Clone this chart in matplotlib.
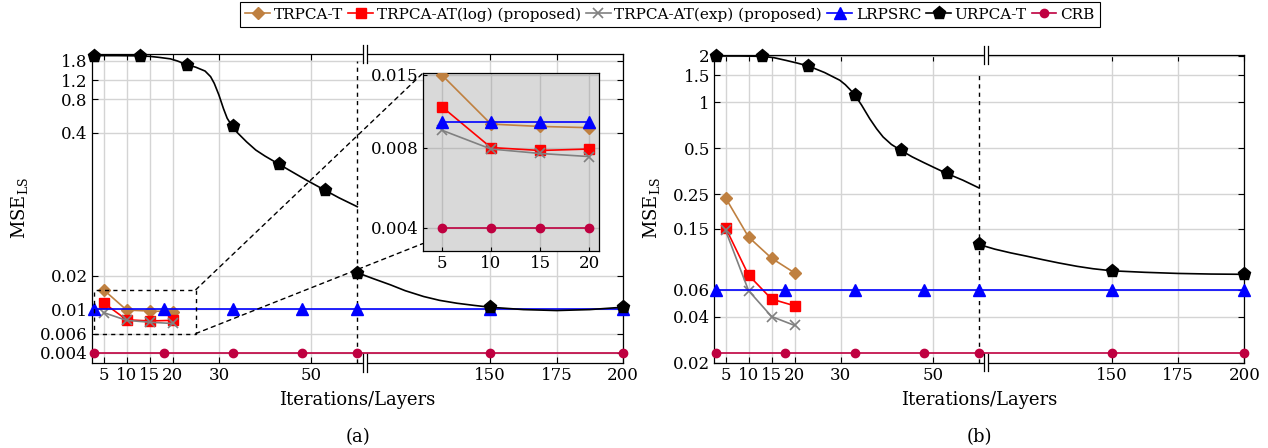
import numpy as np
import matplotlib
matplotlib.use("Agg")
import matplotlib.pyplot as plt
from matplotlib.patches import Rectangle, ConnectionPatch
from matplotlib.ticker import NullLocator

plt.rcParams["font.family"] = ["DejaVu Serif"]
plt.rcParams["mathtext.fontset"] = "dejavuserif"

# ---- data ----
iters_small = [5, 10, 15, 20]
flat_x = [3, 18, 33, 48, 100, 150, 200]

# panel (a)
a_trpca_t = [0.0150, 0.0098, 0.0096, 0.0095]
a_trpca_log = [0.0114, 0.0080, 0.0078, 0.0079]
a_trpca_exp = [0.0093, 0.0079, 0.0076, 0.0074]
a_lrpsrc = [0.0100, 0.0100, 0.0100, 0.0100, 0.0100, 0.0100, 0.0100]
a_crb = [0.0040, 0.0040, 0.0040, 0.0040, 0.0040, 0.0040, 0.0040]
a_urpca_x1 = [3, 8, 13, 15, 17, 19.5, 21, 23, 25, 27, 28.2, 29, 30, 31, 31.8, 32.3, 33,
              34, 36, 38, 40, 43, 46, 49, 53, 56, 60]
a_urpca_y1 = [2.0, 2.0, 1.99, 1.97, 1.93, 1.87, 1.79, 1.66, 1.57, 1.45, 1.29, 1.12, 0.88,
              0.66, 0.54, 0.50, 0.455, 0.40, 0.33, 0.278, 0.245, 0.207, 0.175, 0.148,
              0.12, 0.1026, 0.085]
a_urpca_x2 = [100, 106, 112.5, 118, 125, 131, 137.5, 144, 150, 162.5, 175, 187.5, 200]
a_urpca_y2 = [0.0214, 0.0189, 0.0166, 0.0147, 0.0130, 0.0120, 0.0113, 0.0108, 0.0104,
              0.0099, 0.0097, 0.0099, 0.0104]

# panel (b)
b_trpca_t = [0.238, 0.132, 0.096, 0.077]
b_trpca_log = [0.152, 0.0745, 0.052, 0.047]
b_trpca_exp = [0.146, 0.059, 0.040, 0.035]
b_lrpsrc = [0.060, 0.060, 0.060, 0.060, 0.060, 0.060, 0.060]
b_crb = [0.023, 0.023, 0.023, 0.023, 0.023, 0.023, 0.023]
b_urpca_x1 = [3, 8, 13, 15.5, 18.2, 20.5, 23, 26.5, 28, 29.8, 31, 32, 33, 34.5, 36.3, 37.8,
              39.2, 41, 43, 45.5, 48, 50.5, 53, 56.5, 60]
b_urpca_y1 = [2.0, 2.0, 1.99, 1.95, 1.87, 1.80, 1.72, 1.56, 1.48, 1.39, 1.30, 1.21, 1.12,
              0.96, 0.78, 0.67, 0.593, 0.53, 0.486, 0.44, 0.404, 0.372, 0.343, 0.31, 0.276]
b_urpca_x2 = [100, 106, 112, 118, 124, 130, 137, 143, 150, 162.5, 175, 187.5, 200]
b_urpca_y2 = [0.118, 0.110, 0.104, 0.099, 0.094, 0.0895, 0.085, 0.082, 0.0795, 0.0777,
              0.0764, 0.0757, 0.0754]

xticks = [5, 10, 15, 20, 30, 50, 150, 175, 200]
a_yticks = [0.004, 0.006, 0.01, 0.02, 0.4, 0.8, 1.2, 1.8]
b_yticks = [0.02, 0.04, 0.06, 0.15, 0.25, 0.5, 1, 1.5, 2]

C_T = "#bf8040"
C_LOG = "#ff0000"
C_EXP = "#808080"
C_LR = "#0000ff"
C_UR = "#000000"
C_CRB = "#bf0040"

# broken x axis: [2.5, 60] then [100, 200] squeezed
R = 2.655 / 4.61


def fwd(x):
    x = np.asarray(x, float)
    return np.where(x <= 60, x, np.where(x >= 100, 60 + (x - 100) * R, 60.0))


def inv(u):
    u = np.asarray(u, float)
    return np.where(u <= 60, u, 100 + (u - 60) / R)


def style(ax, yticks, ylim, dash_top):
    ax.set_xscale("function", functions=(fwd, inv))
    ax.set_yscale("log")
    ax.set_xlim(2.5, 200)
    ax.set_ylim(*ylim)
    ax.set_xticks(xticks)
    ax.set_xticklabels([str(t) for t in xticks])
    ax.set_yticks(yticks)
    ax.set_yticklabels([f"{t:g}" for t in yticks])
    ax.xaxis.set_minor_locator(NullLocator())
    ax.yaxis.set_minor_locator(NullLocator())
    ax.grid(True, color="#d4d4d4", lw=1)
    ax.set_axisbelow(True)
    ax.tick_params(direction="in", top=True, right=True, length=4, width=0.8,
                   labelsize=12, pad=3)
    for s in ax.spines.values():
        s.set_linewidth(0.9)
    ax.plot([60, 60], [ylim[0], dash_top], color="k", lw=1, ls=(0, (3, 3)), zorder=3)
    tr = ax.get_xaxis_transform()
    for yb in (0, 1):
        ax.plot([102.75, 102.75], [yb - 0.02, yb + 0.02], color="white", lw=3,
                transform=tr, clip_on=False, zorder=6)
        for xb in (102, 103.5):
            ax.plot([xb, xb], [yb - 0.028, yb + 0.028], color="k", lw=0.9,
                    transform=tr, clip_on=False, zorder=7)


def draw(ax, t, lg, ex, lr, crb, ux1, uy1, ux2, uy2, mk1, label=False):
    kw = dict(lw=1.2, zorder=4, clip_on=False)
    ax.plot(iters_small, t, color=C_T, marker="D", ms=6.5, label="TRPCA-T" if label else None, **kw)
    ax.plot(iters_small, lg, color=C_LOG, marker="s", ms=7,
            label="TRPCA-AT(log) (proposed)" if label else None, **kw)
    ax.plot(iters_small, ex, color=C_EXP, marker="x", ms=7, mew=1.2,
            label="TRPCA-AT(exp) (proposed)" if label else None, **kw)
    ax.plot(flat_x, lr, color=C_LR, marker="^", ms=8, label="LRPSRC" if label else None, **kw)
    ax.plot(ux1, uy1, color=C_UR, marker="p", ms=9.5, markevery=mk1,
            label="URPCA-T" if label else None, **kw)
    ax.plot(ux2, uy2, color=C_UR, marker="p", ms=9.5,
            markevery=[0, ux2.index(150), len(ux2) - 1], **kw)
    ax.plot(flat_x, crb, color=C_CRB, marker="o", ms=6, label="CRB" if label else None, **kw)


W, H = 1268, 448
fig = plt.figure(figsize=(W / 100, H / 100), dpi=100)
ax_a = fig.add_axes([92 / W, 1 - 363 / H, 531 / W, 309 / H])
ax_b = fig.add_axes([714 / W, 1 - 362.7 / H, 530.3 / W, 307.7 / H])

style(ax_a, a_yticks, (0.00324, 2.07), 1.8)
style(ax_b, b_yticks, (0.02, 2.03), 1.5)

mk_a = [a_urpca_x1.index(v) for v in (3, 13, 23, 33, 43, 53)]
mk_b = [b_urpca_x1.index(v) for v in (3, 13, 23, 33, 43, 53)]
draw(ax_a, a_trpca_t, a_trpca_log, a_trpca_exp, a_lrpsrc, a_crb,
     a_urpca_x1, a_urpca_y1, a_urpca_x2, a_urpca_y2, mk_a)
draw(ax_b, b_trpca_t, b_trpca_log, b_trpca_exp, b_lrpsrc, b_crb,
     b_urpca_x1, b_urpca_y1, b_urpca_x2, b_urpca_y2, mk_b, label=True)

# zoom box + inset in (a)
ax_a.add_patch(Rectangle((3, 0.006), 22, 0.009, fill=False, ec="k", lw=1,
                         ls=(0, (3, 3)), zorder=5))
ax_in = fig.add_axes([422.7 / W, 1 - 250.7 / H, 176.6 / W, 177.4 / H])
ax_in.set_facecolor("#d9d9d9")
ax_in.set_yscale("log")
ax_in.set_xlim(3.07, 21)
ax_in.set_ylim(0.00328, 0.0152)
kw = dict(lw=1.2, zorder=4)
ax_in.plot(iters_small, a_trpca_t, color=C_T, marker="D", ms=6.5, **kw)
ax_in.plot(iters_small, a_trpca_log, color=C_LOG, marker="s", ms=7, **kw)
ax_in.plot(iters_small, a_trpca_exp, color=C_EXP, marker="x", ms=7, mew=1.2, **kw)
ax_in.plot(iters_small, a_lrpsrc[:4], color=C_LR, marker="^", ms=8, **kw)
ax_in.plot(iters_small, a_crb[:4], color=C_CRB, marker="o", ms=6, **kw)
ax_in.set_xticks(iters_small)
ax_in.set_xticklabels([str(v) for v in iters_small])
ax_in.set_yticks([0.004, 0.008, 0.015])
ax_in.set_yticklabels(["0.004", "0.008", "0.015"])
ax_in.xaxis.set_minor_locator(NullLocator())
ax_in.yaxis.set_minor_locator(NullLocator())
ax_in.grid(True, color="#bdbdbd", lw=1)
ax_in.set_axisbelow(True)
ax_in.tick_params(direction="in", length=3, labelsize=12, pad=3)
for s in ax_in.spines.values():
    s.set_linewidth(0.9)

for xyA, xyB in (((25, 0.015), (0, 1)), ((25, 0.006), (0, 0.04))):
    con = ConnectionPatch(xyA=xyA, coordsA=ax_a.transData, xyB=xyB, coordsB=ax_in.transAxes,
                          color="k", lw=1, ls=(0, (3, 3)), zorder=5)
    fig.add_artist(con)

# labels
for cx, lbl, ylx in ((357.5, "(a)", 20), (979, "(b)", 652)):
    fig.text(cx / W, 1 - 400 / H, "Iterations/Layers", ha="center", va="center", fontsize=13)
    fig.text(cx / W, 1 - 437 / H, lbl, ha="center", va="center", fontsize=13)
    fig.text(ylx / W, 1 - 208 / H, r"MSE$_{\mathrm{LS}}$", rotation=90,
             ha="center", va="center", fontsize=13)

h, l = ax_b.get_legend_handles_labels()
leg = fig.legend(h, l, ncol=6, loc="upper center", bbox_to_anchor=(670 / W, 1 - 2 / H),
                 fontsize=11, frameon=True, fancybox=False, edgecolor="k", framealpha=1,
                 handlelength=1.6, handletextpad=0.25, columnspacing=0.35,
                 borderpad=0.35, borderaxespad=0)
leg.get_frame().set_linewidth(0.8)

fig.savefig("out.png", dpi=100)
